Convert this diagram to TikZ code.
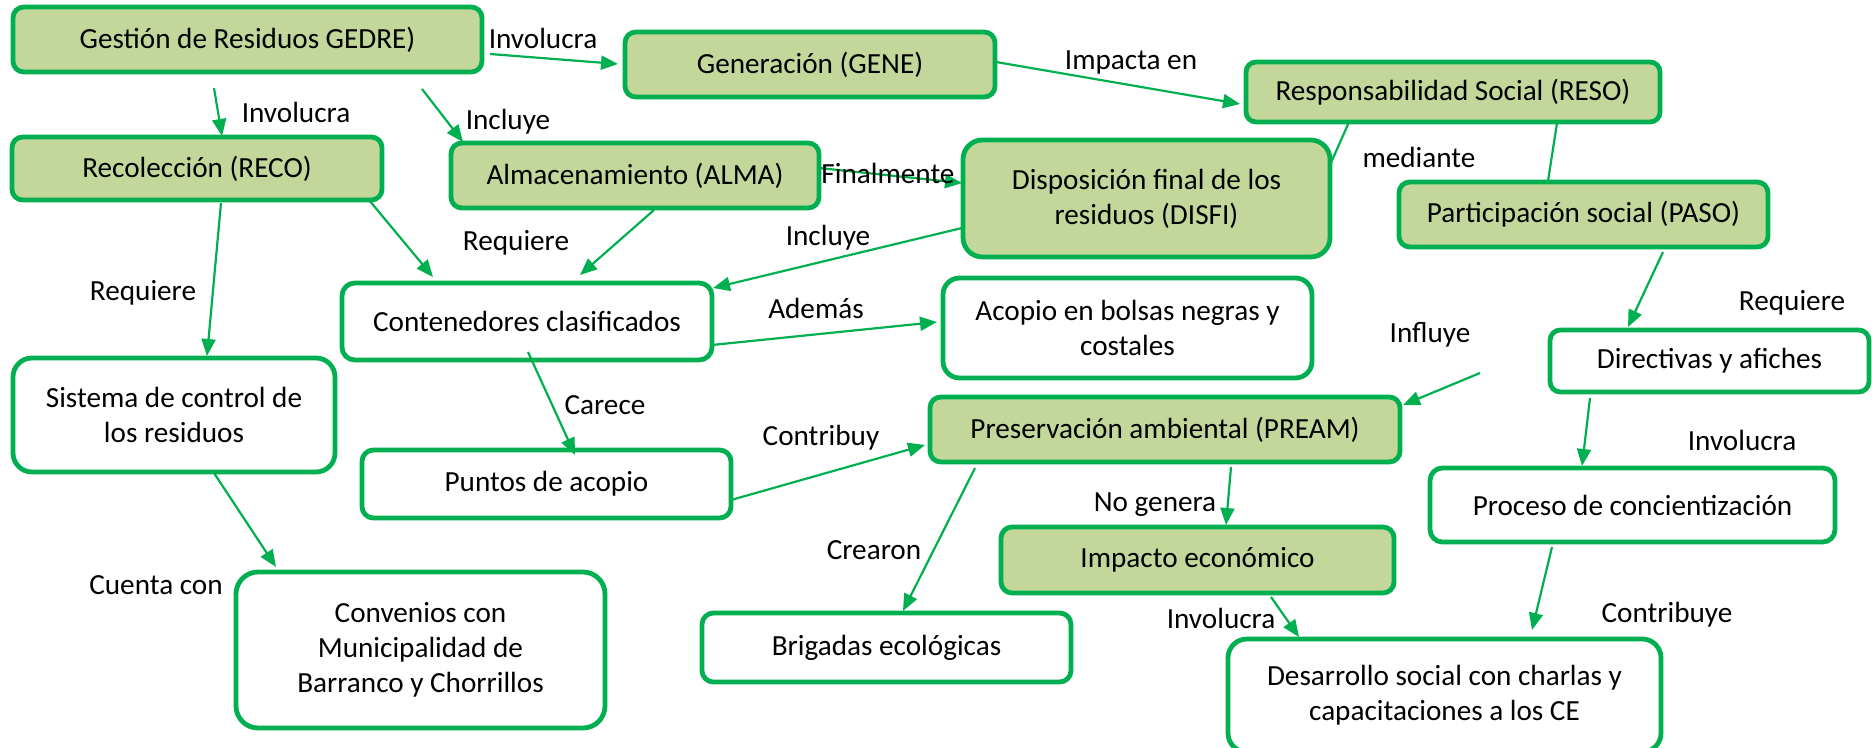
\documentclass[tikz,border=0pt]{standalone}
\usepackage{fontspec}
\setmainfont{Carlito}
\usetikzlibrary{arrows.meta,calc}
\definecolor{gr}{HTML}{00B050}
\definecolor{lgr}{HTML}{C4D79B}
\tikzset{
  cbox/.style={draw=gr, line width=2.4pt, align=center, inner sep=0pt, font=\fontsize{14.6}{17.6}\selectfont},
  fbox/.style={cbox, fill=lgr},
  wbox/.style={cbox, fill=white},
  lbl/.style={inner sep=0pt, font=\fontsize{14.6}{17.6}\selectfont},
  conn/.style={draw=gr, line width=1.1pt, -{Triangle[length=8.5pt,width=7pt]}},
  plain/.style={draw=gr, line width=1.1pt}
}
\begin{document}
\begin{tikzpicture}[x=0.5pt,y=-0.5pt]
\useasboundingbox[fill=white] (0,0) rectangle (1872,748);
% nodes
\node[fbox, rounded corners=5.4pt, minimum width=234.5pt, minimum height=32.5pt] (gedre) at (247.5,39.5) {Gestión de Residuos GEDRE)};
\node[fbox, rounded corners=5.4pt, minimum width=185pt, minimum height=32.5pt] (gene) at (810,64.5) {Generación (GENE)};
\node[fbox, rounded corners=5pt, minimum width=207pt, minimum height=30pt] (reso) at (1453,92) {Responsabilidad Social (RESO)};
\node[fbox, rounded corners=5.3pt, minimum width=185pt, minimum height=31.5pt] (reco) at (197,168.5) {Recolección (RECO)};
\node[fbox, rounded corners=5.4pt, minimum width=184pt, minimum height=32.5pt] (alma) at (635,175.5) {Almacenamiento (ALMA)};
\node[fbox, rounded corners=9.7pt, minimum width=183.5pt, minimum height=58.5pt] (disfi) at (1146.5,198.5) {Disposición final de los\\residuos (DISFI)};
\node[fbox, rounded corners=5.4pt, minimum width=184.5pt, minimum height=32.5pt] (paso) at (1583.5,214.5) {Participación social (PASO)};
\node[wbox, rounded corners=6.4pt, minimum width=185pt, minimum height=38.5pt] (cont) at (527,321.5) {Contenedores clasificados};
\node[wbox, rounded corners=8.3pt, minimum width=184.5pt, minimum height=50pt] (acop) at (1127.5,328) {Acopio en bolsas negras y\\costales};
\node[wbox, rounded corners=5.2pt, minimum width=159.5pt, minimum height=31pt] (dir) at (1709.5,361) {Directivas y afiches};
\node[wbox, rounded corners=9.5pt, minimum width=161pt, minimum height=57pt] (sis) at (174,415) {Sistema de control de\\los residuos};
\node[wbox, rounded corners=5.7pt, minimum width=184.5pt, minimum height=34pt] (pun) at (546.5,484) {Puntos de acopio};
\node[fbox, rounded corners=5.4pt, minimum width=235pt, minimum height=32.5pt] (pream) at (1165,429.5) {Preservación ambiental (PREAM)};
\node[wbox, rounded corners=6.2pt, minimum width=202.5pt, minimum height=37pt] (proc) at (1632.5,505) {Proceso de concientización};
\node[fbox, rounded corners=5.5pt, minimum width=196.5pt, minimum height=33pt] (imp) at (1197.5,560) {Impacto económico};
\node[wbox, rounded corners=11pt, minimum width=184.5pt, minimum height=78pt] (conv) at (420.5,650) {Convenios con\\Municipalidad de\\Barranco y Chorrillos};
\node[wbox, rounded corners=5.7pt, minimum width=184.5pt, minimum height=34.5pt] (brig) at (886.5,647.5) {Brigadas ecológicas};
\node[wbox, rounded corners=9.4pt, minimum width=216.5pt, minimum height=56.5pt] (des) at (1444.5,695.5) {Desarrollo social con charlas y\\capacitaciones a los CE};
\coordinate (infl) at (1480,373);
% connectors
\draw[conn] ($(gedre)+(-33.5,48.5)$) -- ($(reco)+(25,-32.5)$);
\draw[conn] ($(gedre)+(174.5,49.5)$) -- ($(alma)+(-172,-33.5)$);
\draw[conn] ($(gedre)+(242.5,14.5)$) -- ($(gene)+(-192,-0.5)$);
\draw[conn] ($(gene)+(186,-2.5)$) -- ($(reso)+(-213,12)$);
\draw[conn] ($(alma)+(184,-7.5)$) -- ($(disfi)+(-184.5,-15.5)$);
\draw[plain] ($(reso)+(-104,30)$) -- ($(disfi)+(183.5,-33.5)$);
\draw[plain] ($(reso)+(104,31)$) -- ($(paso)+(-35.5,-33.5)$);
\draw[conn] ($(paso)+(79.5,37.5)$) -- ($(dir)+(-81.5,-34)$);
\draw[conn] ($(reco)+(24,34.5)$) -- ($(sis)+(33,-59)$);
\draw[conn] ($(reco)+(172,31.5)$) -- ($(cont)+(-94,-44.5)$);
\draw[conn] ($(alma)+(19,34.5)$) -- ($(cont)+(53,-46.5)$);
\draw[conn] ($(disfi)+(-184.5,29.5)$) -- ($(cont)+(186,-33.5)$);
\draw[conn] ($(cont)+(185,23.5)$) -- ($(acop)+(-190.5,-6)$);
\draw[conn] ($(cont)+(1,30.5)$) -- ($(pun)+(28.5,-29)$);
\draw[conn] ($(pun)+(184.5,16)$) -- ($(pream)+(-240,15.5)$);
\draw[conn] (infl) -- ($(pream)+(238,-24.5)$);
\draw[conn] ($(pream)+(-190,38.5)$) -- ($(brig)+(16.5,-36.5)$);
\draw[conn] ($(pream)+(66,37.5)$) -- ($(imp)+(28.5,-35)$);
\draw[conn] ($(imp)+(73.5,37)$) -- ($(des)+(-145.5,-58.5)$);
\draw[conn] ($(dir)+(-119.5,37)$) -- ($(proc)+(-50.5,-39)$);
\draw[conn] ($(proc)+(-80.5,42)$) -- ($(des)+(87.5,-65.5)$);
\draw[conn] ($(sis)+(40,58)$) -- ($(conv)+(-144.5,-83)$);
% labels
\node[lbl] (l1) at (296,112) {Involucra};
\node[lbl] (l2) at (508,122) {Incluye};
\node[lbl] (l3) at (543,38) {Involucra};
\node[lbl] (l4) at (1131,62) {Impacta en};
\node[lbl] (l5) at (888,173) {Finalmente};
\node[lbl] (l6) at (1419,157) {mediante};
\node[lbl] (l7) at (1792,303) {Requiere};
\node[lbl] (l8) at (143,293) {Requiere};
\node[lbl] (l9) at (516,243) {Requiere};
\node[lbl] (l10) at (828,238) {Incluye};
\node[lbl] (l11) at (816,308) {Además};
\node[lbl] (l12) at (605,405) {Carece};
\node[lbl] (l13) at (821,438) {Contribuy};
\node[lbl] (l14) at (1430,335) {Influye};
\node[lbl] (l15) at (874,550) {Crearon};
\node[lbl] (l16) at (1155,505) {No genera};
\node[lbl] (l17) at (1221,618) {Involucra};
\node[lbl] (l18) at (1742,440) {Involucra};
\node[lbl] (l19) at (1667,615) {Contribuye};
\node[lbl] (l20) at (156,585) {Cuenta con};
\end{tikzpicture}
\end{document}
